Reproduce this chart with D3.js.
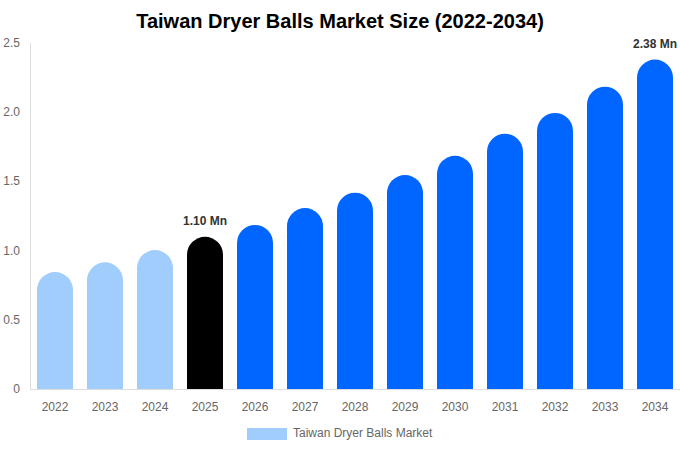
<!DOCTYPE html>
<html><head><meta charset="utf-8">
<script src="https://cdn.jsdelivr.net/npm/d3@7"></script>
<style>body{margin:0;background:#fff;font-family:"Liberation Sans",Arial,Helvetica,sans-serif;}</style>
</head><body>
<svg id="chart" width="680" height="450"></svg>
<script>
const years = ["2022","2023","2024","2025","2026","2027","2028","2029","2030","2031","2032","2033","2034"];
const values = [0.845, 0.915, 1.004, 1.10, 1.185, 1.307, 1.418, 1.546, 1.685, 1.845, 1.995, 2.184, 2.38];
const yTicks = [0, 0.5, 1.0, 1.5, 2.0, 2.5];
const labels = {"2025":"1.10 Mn","2034":"2.38 Mn"};
const title = "Taiwan Dryer Balls Market Size (2022-2034)";
const legendLabel = "Taiwan Dryer Balls Market";

const svg = d3.select("#chart");
const mLeft = 30, mRight = 680, mTop = 43, mBottom = 389;
const x = d3.scaleBand().domain(years).range([mLeft, mRight]).paddingInner(0.28).paddingOuter(0.14);
const y = d3.scaleLinear().domain([0, 2.5]).range([mBottom, mTop]);

function color(yr){ const v=+yr; return v<2025?"#a0cdfc":(v===2025?"#000000":"#0066ff"); }

svg.append("text").attr("x",340).attr("y",28).attr("text-anchor","middle")
  .attr("font-size",20).attr("font-weight","bold").attr("fill","#000").text(title);

// axes
svg.append("line").attr("x1",mLeft+0.5).attr("x2",mLeft+0.5).attr("y1",mTop).attr("y2",mBottom).attr("stroke","#ddd");
svg.append("line").attr("x1",mLeft).attr("x2",mRight).attr("y1",mBottom+0.5).attr("y2",mBottom+0.5).attr("stroke","#ddd");

svg.selectAll(".yt").data(yTicks).enter().append("text")
  .attr("x",20).attr("y",d=>y(d)+4).attr("text-anchor","end")
  .attr("font-size",12).attr("fill","#666").text(d=>d===0?"0":d.toFixed(1));

svg.selectAll(".xt").data(years).enter().append("text")
  .attr("x",d=>x(d)+x.bandwidth()/2).attr("y",411).attr("text-anchor","middle")
  .attr("font-size",12).attr("fill","#666").text(d=>d);

// bars
const bw = x.bandwidth(), r = bw/2;
svg.selectAll(".bar").data(years).enter().append("path")
  .attr("fill",d=>color(d))
  .attr("d",(d,i)=>{
    const x0=x(d), x1=x0+bw, yt=y(values[i]), yb=y(0);
    return `M${x0},${yb}L${x0},${yt+r}A${r},${r} 0 0 1 ${x1},${yt+r}L${x1},${yb}Z`;
  });

svg.selectAll(".lbl").data(years.filter(d=>labels[d])).enter().append("text")
  .attr("x",d=>x(d)+bw/2).attr("y",d=>y(values[years.indexOf(d)])-12)
  .attr("text-anchor","middle").attr("font-size",12).attr("font-weight","bold").attr("fill","#333")
  .text(d=>labels[d]);

// legend
svg.append("rect").attr("x",247).attr("y",428).attr("width",40).attr("height",12).attr("fill","#a0cdfc");
svg.append("text").attr("x",293).attr("y",437).attr("font-size",12).attr("fill","#666").text(legendLabel);
</script>
</body></html>
